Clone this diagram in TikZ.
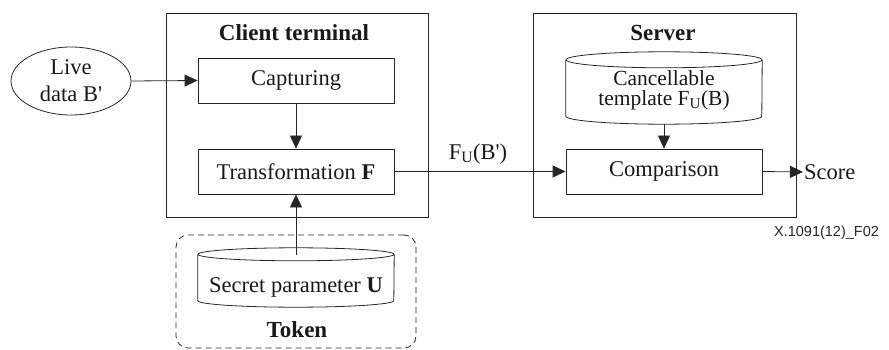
\documentclass[tikz,border=0pt]{standalone}
\usepackage{fontspec}
\setmainfont{Liberation Serif}
\newfontfamily\labelfont{Liberation Sans}
\usetikzlibrary{arrows.meta,shapes.geometric}
\begin{document}
\begin{tikzpicture}[x=1pt,y=1pt,
  line/.style={draw=black!85, line width=0.8pt},
  txt/.style={font=\fontsize{22.5}{27}\selectfont, inner sep=0pt, align=center, text=black!90},
  ttl/.style={font=\fontsize{23}{27}\selectfont\bfseries, inner sep=0pt, text=black!90},
  box/.style={line, txt, rectangle, minimum width=196pt, minimum height=45pt},
  frame/.style={line, rectangle, inner sep=0pt},
  cyl/.style={rectangle, inner sep=0pt, minimum width=196pt},
  arr/.style={line, -{Triangle[length=13pt,width=12pt]}}]
\useasboundingbox (0,0) rectangle (889,-350);

% Client terminal
\node[frame, minimum width=262pt, minimum height=204pt] (client) at (297,-115) {};
\node[ttl] (clienttitle) at (294,-33) {Client terminal};
\node[box] (cap) at (296,-80.5) {Capturing};
\node[box] (trans) at (296,-171.5) {Transformation \textbf{F}};

% Live data
\node[line, ellipse, txt, minimum width=120pt, minimum height=68pt] (live) at (71,-81) {Live\\data B\textquotesingle};

% Server
\node[frame, minimum width=263pt, minimum height=204pt] (server) at (664.5,-115) {};
\node[ttl] (servertitle) at (663,-33) {Server};
\node[cyl, minimum height=72pt] (tmpl) at (664,-88) {};
\draw[line] ([yshift=-8pt]tmpl.north) ellipse [x radius=98pt, y radius=8pt];
\draw[line] ([yshift=-8pt]tmpl.north west) -- ([yshift=8pt]tmpl.south west)
  arc[start angle=180, end angle=360, x radius=98pt, y radius=8pt]
  -- ([yshift=-8pt]tmpl.north east);
\node[txt, font=\fontsize{21.5}{20}\selectfont] (tmpltext) at (664,-90) {Cancellable\\template F\textsubscript{U}(B)};
\node[box] (comp) at (664,-171.5) {Comparison};

% Token
\node[draw=black!85, line width=0.8pt, dash pattern=on 6pt off 4pt, rounded corners=12pt,
  rectangle, minimum width=240pt, minimum height=113pt, inner sep=0pt] (token) at (296,-291.5) {};
\node[cyl, minimum height=59pt] (secret) at (296,-277.5) {};
\draw[line] ([yshift=-6.5pt]secret.north) ellipse [x radius=98pt, y radius=6.5pt];
\draw[line] ([yshift=-6.5pt]secret.north west) -- ([yshift=6.5pt]secret.south west)
  arc[start angle=180, end angle=360, x radius=98pt, y radius=6.5pt]
  -- ([yshift=-6.5pt]secret.north east);
\node[txt] (secrettext) at (296,-287) {Secret parameter \textbf{U}};
\coordinate (secrettop) at (296,-255);
\node[ttl] (tokentitle) at (297,-330) {Token};

% Connectors
\draw[arr] (live.east) -- (cap.west);
\draw[arr] (cap.south) -- (trans.north);
\draw[arr] (secrettop) -- (trans.south);
\draw[arr] (trans.east) -- (comp.west);
\node[txt] (fu) at (478,-154) {F\textsubscript{U}(B\textquotesingle)};
\draw[arr] (tmpl.south) -- (comp.north);
\node[txt, anchor=west] (score) at (804,-172) {Score};
\draw[arr] (comp.east) -- ([xshift=-1pt]score.west);

\node[font=\labelfont\fontsize{14.5}{16}\selectfont, inner sep=0pt, text=black!85] (ref) at (826.5,-233) {X.1091(12)\_F02};
\end{tikzpicture}
\end{document}
